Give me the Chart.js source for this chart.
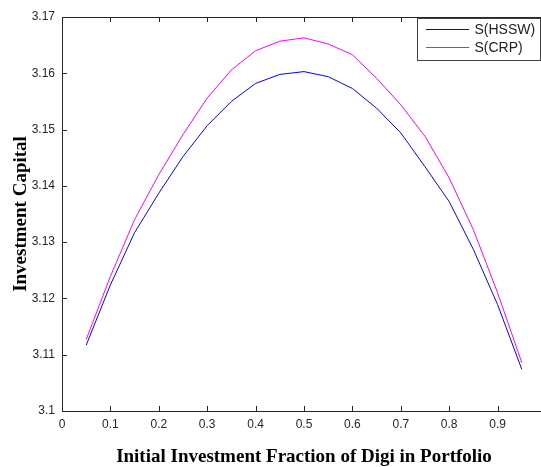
<!DOCTYPE html>
<html>
<head>
<meta charset="utf-8">
<script src="https://cdn.jsdelivr.net/npm/chart.js@4/dist/chart.umd.min.js"></script>
<style>
  html, body { margin: 0; padding: 0; background: #fff; overflow: hidden; }
  #wrap { width: 560px; height: 467px; }
</style>
</head>
<body>
<div id="wrap"><canvas id="capitalChart" width="560" height="467"></canvas></div>
<script>
// initial fraction of Digi in the portfolio
const fractions = [0.05, 0.10, 0.15, 0.20, 0.25, 0.30, 0.35, 0.40, 0.45, 0.50,
                   0.55, 0.60, 0.65, 0.70, 0.75, 0.80, 0.85, 0.90, 0.95];

// final wealth for each strategy
const hsswCapital = [3.1117, 3.1224, 3.1317, 3.1387, 3.1452, 3.1507, 3.1550, 3.1582, 3.1598, 3.1603,
                     3.1594, 3.1573, 3.1538, 3.1494, 3.1434, 3.1372, 3.1287, 3.1189, 3.1074];
const crpCapital  = [3.1127, 3.1239, 3.1340, 3.1420, 3.1491, 3.1556, 3.1606, 3.1640, 3.1657, 3.1663,
                     3.1652, 3.1633, 3.1591, 3.1544, 3.1488, 3.1414, 3.1322, 3.1210, 3.1086];

const seriesLabels = ['S(HSSW)', 'S(CRP)'];
const seriesColors = ['#0000ff', '#ff00ff'];

const xMin = 0, xMax = 1, xStep = 0.1;
const yMin = 3.1, yMax = 3.17, yStep = 0.01;

const sansFont = '"Liberation Sans", Arial, sans-serif';
const serifFont = '"Liberation Serif", "Times New Roman", serif';

function toPoints(values) {
    return fractions.map((f, i) => ({ x: f, y: values[i] }));
}

// 3.10 -> "3.1", 0.50 -> "0.5"
function trimLabel(v) {
    return String(Number(v.toFixed(2)));
}

// matlab style box with inward ticks and a boxed legend
const framePlugin = {
    id: 'frame',
    afterDraw(chart) {
        const { ctx, chartArea: a, scales: { x, y } } = chart;
        const tick = 5;
        ctx.save();
        ctx.strokeStyle = '#262626';
        ctx.lineWidth = 1;
        ctx.strokeRect(Math.round(a.left) + 0.5, Math.round(a.top) + 0.5,
                       Math.round(a.right - a.left), Math.round(a.bottom - a.top));

        ctx.beginPath();
        x.ticks.forEach(t => {
            const px = Math.round(x.getPixelForValue(t.value)) + 0.5;
            ctx.moveTo(px, a.bottom); ctx.lineTo(px, a.bottom - tick);
            ctx.moveTo(px, a.top); ctx.lineTo(px, a.top + tick);
        });
        y.ticks.forEach(t => {
            const py = Math.round(y.getPixelForValue(t.value)) + 0.5;
            ctx.moveTo(a.left, py); ctx.lineTo(a.left + tick, py);
            ctx.moveTo(a.right, py); ctx.lineTo(a.right - tick, py);
        });
        ctx.stroke();

        // legend
        const lx = 417.5, ly = 18.5, lw = 123, lh = 42;
        ctx.fillStyle = '#fff';
        ctx.fillRect(lx, ly, lw, lh);
        ctx.strokeStyle = '#404040';
        ctx.strokeRect(lx, ly, lw, lh);
        ctx.font = '14px ' + sansFont;
        ctx.textBaseline = 'middle';
        chart.data.datasets.forEach((ds, i) => {
            const rowY = ly + 11 + i * 18;
            ctx.strokeStyle = ds.borderColor;
            ctx.beginPath();
            ctx.moveTo(lx + 8.5, rowY);
            ctx.lineTo(lx + 51.5, rowY);
            ctx.stroke();
            ctx.fillStyle = '#222';
            ctx.fillText(ds.label, lx + 57, rowY + 0.5);
        });
        ctx.restore();
    }
};

const ctx = document.getElementById('capitalChart').getContext('2d');

new Chart(ctx, {
    type: 'line',
    data: {
        datasets: [
            { label: seriesLabels[0], data: toPoints(hsswCapital), borderColor: seriesColors[0] },
            { label: seriesLabels[1], data: toPoints(crpCapital), borderColor: seriesColors[1] }
        ]
    },
    options: {
        responsive: false,
        animation: false,
        devicePixelRatio: 1,
        layout: { padding: { top: 17, right: 14, left: 0, bottom: 0 } },
        elements: {
            line: { borderWidth: 1, tension: 0, fill: false },
            point: { radius: 0, hoverRadius: 0 }
        },
        plugins: {
            legend: { display: false },
            tooltip: { enabled: false }
        },
        scales: {
            x: {
                type: 'linear',
                min: xMin,
                max: xMax,
                grid: { display: false, drawTicks: false },
                border: { display: false },
                ticks: {
                    stepSize: xStep,
                    padding: 6,
                    color: '#262626',
                    font: { family: sansFont, size: 12 },
                    maxRotation: 0,
                    // the label at 1 falls off the right edge
                    callback: v => (v >= xMax ? '' : trimLabel(v))
                },
                title: {
                    display: true,
                    text: 'Initial Investment Fraction of Digi in Portfolio',
                    color: '#000',
                    font: { family: serifFont, size: 19, weight: 'bold', lineHeight: 1 },
                    padding: { top: 0, bottom: 0 }
                },
                afterFit: s => { s.height = 56; }
            },
            y: {
                type: 'linear',
                min: yMin,
                max: yMax,
                grid: { display: false, drawTicks: false },
                border: { display: false },
                ticks: {
                    stepSize: yStep,
                    padding: 7,
                    color: '#262626',
                    font: { family: sansFont, size: 12 },
                    callback: v => trimLabel(v)
                },
                title: {
                    display: true,
                    text: 'Investment Capital',
                    color: '#000',
                    font: { family: serifFont, size: 19, weight: 'bold', lineHeight: 1 },
                    padding: { top: 12, bottom: 0 }
                },
                afterFit: s => { s.width = 62; }
            }
        }
    },
    plugins: [framePlugin]
});
</script>
</body>
</html>
